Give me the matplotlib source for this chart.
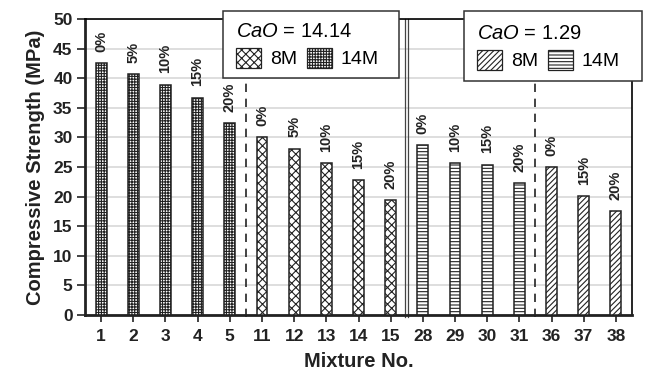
import matplotlib
matplotlib.use("Agg")
import matplotlib.pyplot as plt
from matplotlib.patches import Patch, Rectangle
import numpy as np

plt.rcParams['font.family'] = ['Liberation Sans', 'DejaVu Sans']
plt.rcParams['mathtext.fontset'] = 'custom'
plt.rcParams['mathtext.it'] = 'Liberation Sans:italic'
plt.rcParams['mathtext.rm'] = 'Liberation Sans'
plt.rcParams['hatch.linewidth'] = 0.8

mixtures = ['1', '2', '3', '4', '5', '11', '12', '13', '14', '15',
            '28', '29', '30', '31', '36', '37', '38']
strength = [42.6, 40.7, 38.9, 36.7, 32.4, 30.0, 28.1, 25.6, 22.8, 19.4,
            28.7, 25.7, 25.4, 22.3, 25.0, 20.1, 17.6]
replacement = ['0%', '5%', '10%', '15%', '20%', '0%', '5%', '10%', '15%', '20%',
               '0%', '10%', '15%', '20%', '0%', '15%', '20%']
groups = ['14M_high'] * 5 + ['8M_high'] * 5 + ['14M_low'] * 4 + ['8M_low'] * 3

hatches = {'14M_high': '++++++', '8M_high': 'xxxx', '14M_low': '-----', '8M_low': '//////'}

W, H = 651, 373
fig = plt.figure(figsize=(W/100, H/100), dpi=100)
ax = fig.add_axes([85/W, 1-315/H, (632-85)/W, (315-19)/H])

x = np.arange(len(mixtures))
for xi, v, g in zip(x, strength, groups):
    ax.bar(xi, v, width=0.34, facecolor='white', edgecolor='#222222',
           hatch=hatches[g], linewidth=1.1, zorder=3)

for xi, v, lab in zip(x, strength, replacement):
    ax.text(xi, v + 1.9, lab, rotation=90, ha='center', va='bottom',
            fontsize=10.5, fontweight='bold', color='#222222', zorder=4)

ax.set_xlim(-0.5, 16.5)
ax.set_ylim(0, 50)
ax.set_yticks(np.arange(0, 51, 5))
ax.set_xticks(x)
ax.set_xticklabels(mixtures)
ax.yaxis.grid(True, color='#d8d8d8', linewidth=1.2, zorder=0)
ax.set_axisbelow(True)

for xv in [4.5, 13.5]:
    ax.plot([xv, xv], [-0.4, 50], color='#222222', linestyle=(0, (5, 4)),
            linewidth=1.2, clip_on=False, zorder=2)
for xv in [9.45, 9.55]:
    ax.plot([xv, xv], [-0.4, 50], color='#444444', linewidth=0.9,
            clip_on=False, zorder=2)

for s in ['left', 'bottom']:
    ax.spines[s].set_linewidth(2.0)
for s in ['top', 'right']:
    ax.spines[s].set_linewidth(1.2)
ax.spines['left'].set_color('#222222')
ax.spines['bottom'].set_color('#222222')

ax.tick_params(axis='y', direction='out', length=6, width=1.2,
               labelsize=12.5, colors='#222222', pad=3)
ax.tick_params(axis='x', direction='out', length=5, width=1.2,
               labelsize=12.5, colors='#222222', pad=5)
for lab in ax.get_xticklabels() + ax.get_yticklabels():
    lab.set_fontweight('bold')

ax.set_ylabel('Compressive Strength (MPa)', fontsize=14.5, fontweight='bold', color='#222222', labelpad=6)
ax.set_xlabel('Mixture No.', fontsize=14.5, fontweight='bold', color='#222222', labelpad=6)

def make_legend(title, h8, h14, box, anchor):
    x0, y0, x1, y1 = box
    fig.add_artist(Rectangle((x0/W, 1-y1/H), (x1-x0)/W, (y1-y0)/H,
                             transform=fig.transFigure, facecolor='white',
                             edgecolor='#333333', linewidth=1.1, zorder=8))
    handles = [Patch(facecolor='white', edgecolor='#222222', hatch=h8, linewidth=0.9),
               Patch(facecolor='white', edgecolor='#222222', hatch=h14, linewidth=0.9)]
    leg = fig.legend(handles, ['8M', '14M'], ncol=2, title=title,
                     loc='upper left', bbox_to_anchor=(anchor[0]/W, 1-anchor[1]/H),
                     bbox_transform=fig.transFigure,
                     fontsize=14, title_fontsize=14.5, frameon=False,
                     handlelength=1.29, handleheight=1.2, columnspacing=0.5,
                     handletextpad=0.45, labelspacing=0.35,
                     borderpad=0, borderaxespad=0, alignment='left')
    leg.set_zorder(10)
    return leg

make_legend('$\\mathit{CaO}$ = 14.14', 'xxxx', '++++++', (223, 11, 399, 78), (236, 22))
make_legend('$\\mathit{CaO}$ = 1.29', '//////', '-----', (464, 11, 642, 81), (477, 24))

fig.savefig('out.png', dpi=100)
